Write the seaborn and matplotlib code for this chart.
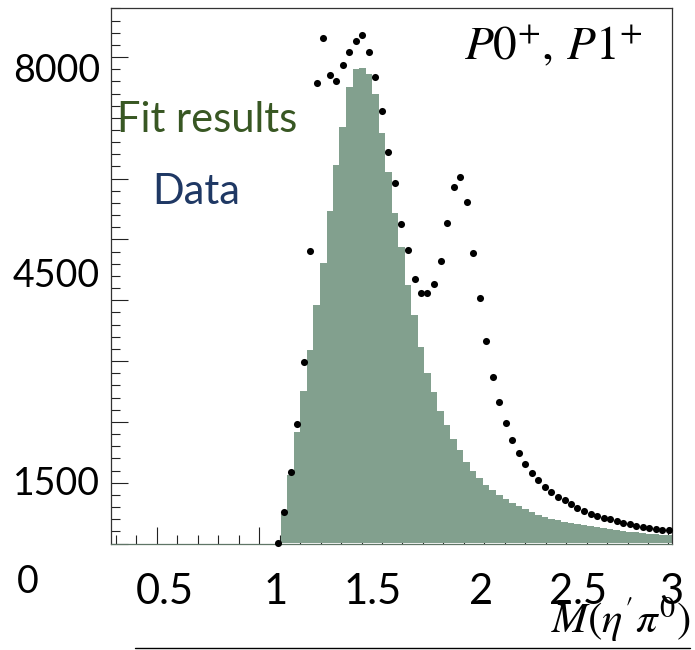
import numpy as np
import pandas as pd
import matplotlib
matplotlib.use("Agg")
import matplotlib.pyplot as plt
from matplotlib.lines import Line2D
import seaborn as sns

# ---- data ----
mass = [1.090, 1.121, 1.153, 1.185, 1.217, 1.249, 1.281, 1.313, 1.345, 1.376,
        1.408, 1.440, 1.472, 1.504, 1.536, 1.568, 1.599, 1.631, 1.663, 1.695,
        1.727, 1.759, 1.791, 1.822, 1.854, 1.886, 1.918, 1.950, 1.982, 2.014,
        2.045, 2.077, 2.109, 2.141, 2.173, 2.205, 2.237, 2.269, 2.300, 2.332,
        2.364, 2.396, 2.428, 2.460, 2.492, 2.523, 2.555, 2.587, 2.619, 2.651,
        2.683, 2.715, 2.747, 2.779, 2.810, 2.842, 2.874, 2.906, 2.938, 2.970,
        3.001]

data_counts = [16, 510, 1180, 1970, 2990, 4806, 7577, 8307, 7708, 7610,
               7873, 8082, 8263, 8362, 8082, 7670, 7116, 6441, 5921, 5251,
               4823, 4345, 4120, 4120, 4263, 4653, 5272, 5855, 6024, 5618,
               4785, 4041, 3337, 2737, 2321, 1987, 1701, 1493, 1306, 1164,
               1037, 927, 839, 762, 708, 642, 588, 527, 489, 456,
               423, 395, 367, 341, 318, 296, 275, 263, 235, 219,
               219]

fit_counts = [0, 490, 1119, 1832, 2502, 3188, 3929, 4620, 5465, 6222,
              6853, 7511, 7797, 7813, 7714, 7390, 6757, 6112, 5427, 4884,
              4247, 3760, 3230, 2810, 2490, 2180, 1945, 1725, 1530, 1345,
              1190, 1070, 960, 880, 795, 725, 665, 610, 565, 520,
              470, 440, 410, 380, 355, 335, 315, 297, 280, 264,
              248, 234, 220, 207, 195, 183, 172, 161, 151, 141,
              132]

x_tick_labels = ["0.5", "1", "1.5", "2", "2.5", "3"]
x_label_pos = [0.540, 1.078, 1.553, 2.082, 2.556, 3.015]
y_tick_labels = ["8000", "4500", "1500"]
y_label_pos = [7821, 4449, 1044]

# ---- style ----
sns.set_theme(style="ticks")
plt.rcParams["font.family"] = ["Lato", "DejaVu Sans"]
plt.rcParams["mathtext.fontset"] = "stix"

W, H = 695, 650
fig = plt.figure(figsize=(W / 100, H / 100), dpi=100)
left, right, top, bottom = 111, 672, 8, 543.5
ax = fig.add_axes([left / W, 1 - bottom / H, (right - left) / W, (bottom - top) / H])

df = pd.DataFrame({"mass": mass, "data": data_counts, "fit": fit_counts})
m = np.array(mass)
edges = np.concatenate([[m[0] - (m[1] - m[0]) / 2], (m[:-1] + m[1:]) / 2,
                        [m[-1] + (m[-1] - m[-2]) / 2]]).tolist()

sns.histplot(data=df, x="mass", weights="fit", bins=edges, element="step",
             fill=True, color="#82A08E", alpha=1, linewidth=0, ax=ax)
sns.scatterplot(data=df, x="mass", y="data", color="black", s=26,
                linewidth=0, ax=ax, clip_on=False, zorder=5)

ax.set_xlim(0.2755, 3.0173)
ax.set_ylim(0, 8806)
ax.set_xlabel("")
ax.set_ylabel("")
ax.set_axisbelow(True)

# real tick marks (labels are overlaid separately like the reference)
ax.set_xticks(np.arange(0.5, 3.01, 0.5))
ax.set_xticks(np.arange(0.3, 3.01, 0.1), minor=True)
ax.set_yticks(np.arange(0, 8001, 1000))
ax.set_yticks(np.arange(0, 8801, 200), minor=True)
ax.tick_params(which="both", direction="in", color="#222222", width=0.8,
               labelbottom=False, labelleft=False, bottom=True, left=True,
               top=False, right=False)
ax.tick_params(which="major", length=12.5)
ax.tick_params(which="minor", length=6.5)

for name, sp in ax.spines.items():
    sp.set_visible(True)
    sp.set_linewidth(0.9)
    sp.set_color("#333333")
ax.spines["bottom"].set_color("#5f7566")

# overlaid tick labels
secx = ax.secondary_xaxis("bottom")
secx.set_xticks(x_label_pos, labels=x_tick_labels)
secx.tick_params(length=0, pad=21, labelsize=30, labelcolor="black")
for sp in secx.spines.values():
    sp.set_visible(False)

secy = ax.secondary_yaxis("left")
secy.set_yticks(y_label_pos, labels=y_tick_labels)
secy.tick_params(length=0, pad=8, labelsize=27, labelcolor="black")
for sp in secy.spines.values():
    sp.set_visible(False)

fig.text(17 / W, 1 - 593 / H, "0", fontsize=27, ha="left", va="baseline", color="black")

# annotations
fig.text(117 / W, 1 - 132 / H, "Fit results", fontsize=30, color="#385723",
         ha="left", va="baseline")
fig.text(152 / W, 1 - 204 / H, "Data", fontsize=30, color="#1F3864",
         ha="left", va="baseline")
fig.text(643 / W, 1 - 59.5 / H, r"$P0^{+},\,P1^{+}$", fontsize=34,
         ha="right", va="baseline", color="black")
fig.text(691 / W, 1 - 633 / H, r"$M(\eta'\pi^{0})$", fontsize=31,
         ha="right", va="baseline", color="black")

fig.add_artist(Line2D([135 / W, 690 / W], [1 - 647.5 / H, 1 - 647.5 / H],
                      color="black", linewidth=1))

fig.savefig("out.png", dpi=100)
